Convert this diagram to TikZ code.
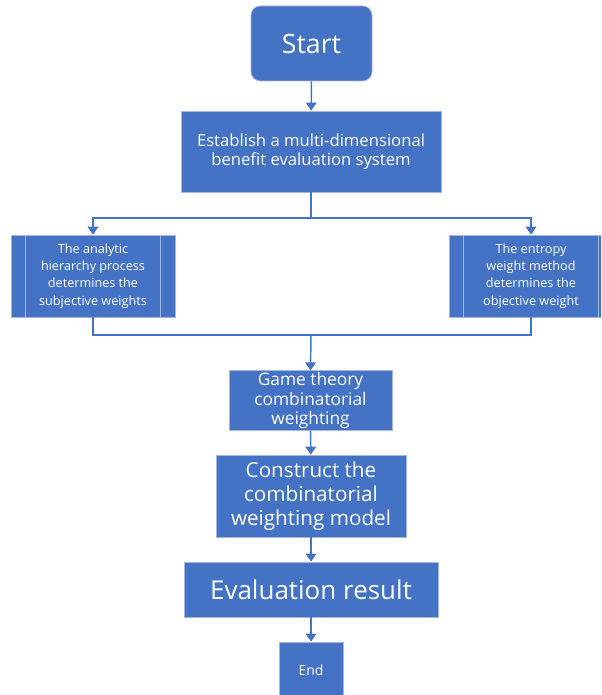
\documentclass[tikz,border=0pt]{standalone}
\usepackage{fontspec}
\setmainfont{Open Sans}
\usepackage{tikz}
\usetikzlibrary{arrows.meta}
\usepackage{xcolor}
\definecolor{boxblue}{RGB}{68,114,196}
\definecolor{boxline}{RGB}{165,182,215}

\tikzset{
  box/.style = {draw=boxline, line width=0.6pt, fill=boxblue, text=white, align=center, inner sep=1pt},
  flow/.style = {boxblue, line width=1.1pt},
  flowarrow/.style = {flow, -{Triangle[width=8pt,length=6pt]}}
}

\begin{document}
\begin{tikzpicture}[x=0.75pt, y=-0.75pt]
\useasboundingbox (0,0) rectangle (601,695);
\begin{scope}
\clip (0,0) rectangle (601,695);

\node[box, rounded corners=7pt, minimum width=90.75pt, minimum height=56.25pt,
  font=\fontsize{20}{23}\selectfont] (start) at (311.5,43.5) {Start};

\node[box, minimum width=195pt, minimum height=60.75pt,
  font=\fontsize{12.5}{14.5}\selectfont] (est) at (311,151.5)
  {Establish a multi-dimensional\\ benefit evaluation system};

\node[box, minimum width=123pt, minimum height=61.5pt,
  font=\fontsize{9.5}{12.9}\selectfont] (ahp) at (93,276)
  {The analytic\\ hierarchy process\\ determines the\\ subjective weights};
\draw[boxline, line width=0.6pt] ([xshift=11.25pt]ahp.north west) -- ([xshift=11.25pt]ahp.south west);
\draw[boxline, line width=0.6pt] ([xshift=-11.25pt]ahp.north east) -- ([xshift=-11.25pt]ahp.south east);

\node[box, minimum width=123pt, minimum height=61.5pt,
  font=\fontsize{9.5}{12.9}\selectfont] (ewm) at (531,276)
  {The entropy\\ weight method\\ determines the\\ objective weight};
\draw[boxline, line width=0.6pt] ([xshift=11.25pt]ewm.north west) -- ([xshift=11.25pt]ewm.south west);
\draw[boxline, line width=0.6pt] ([xshift=-11.25pt]ewm.north east) -- ([xshift=-11.25pt]ewm.south east);

\node[box, minimum width=122.25pt, minimum height=44.25pt,
  font=\fontsize{13}{14.8}\selectfont] (game) at (310.5,400.5)
  {Game theory\\ combinatorial\\ weighting};

\node[box, minimum width=142.5pt, minimum height=61.5pt,
  font=\fontsize{15.5}{18}\selectfont] (model) at (311,496)
  {Construct the\\ combinatorial\\ weighting model};

\node[box, minimum width=190.5pt, minimum height=41.25pt,
  font=\fontsize{19.5}{22}\selectfont] (result) at (311,589.5) {Evaluation result};

\node[box, minimum width=48pt, minimum height=42pt,
  font=\fontsize{10.5}{12}\selectfont] (end) at (311,670) {End};

% split and merge points
\coordinate (split) at (311,218);
\coordinate (merge) at (311,335);

\draw[flowarrow] (start) -- (est);
\draw[flow] (est.south) -- (split);
\draw[flowarrow] (split) -| (ahp.north);
\draw[flowarrow] (split) -| (ewm.north);
\draw[flow] (ahp.south) |- (merge);
\draw[flow] (ewm.south) |- (merge);
\draw[flowarrow] (merge) -- (game.north);
\draw[flowarrow] (game) -- (model);
\draw[flowarrow] (model) -- (result);
\draw[flowarrow] (result) -- (end);
\end{scope}
\end{tikzpicture}
\end{document}
